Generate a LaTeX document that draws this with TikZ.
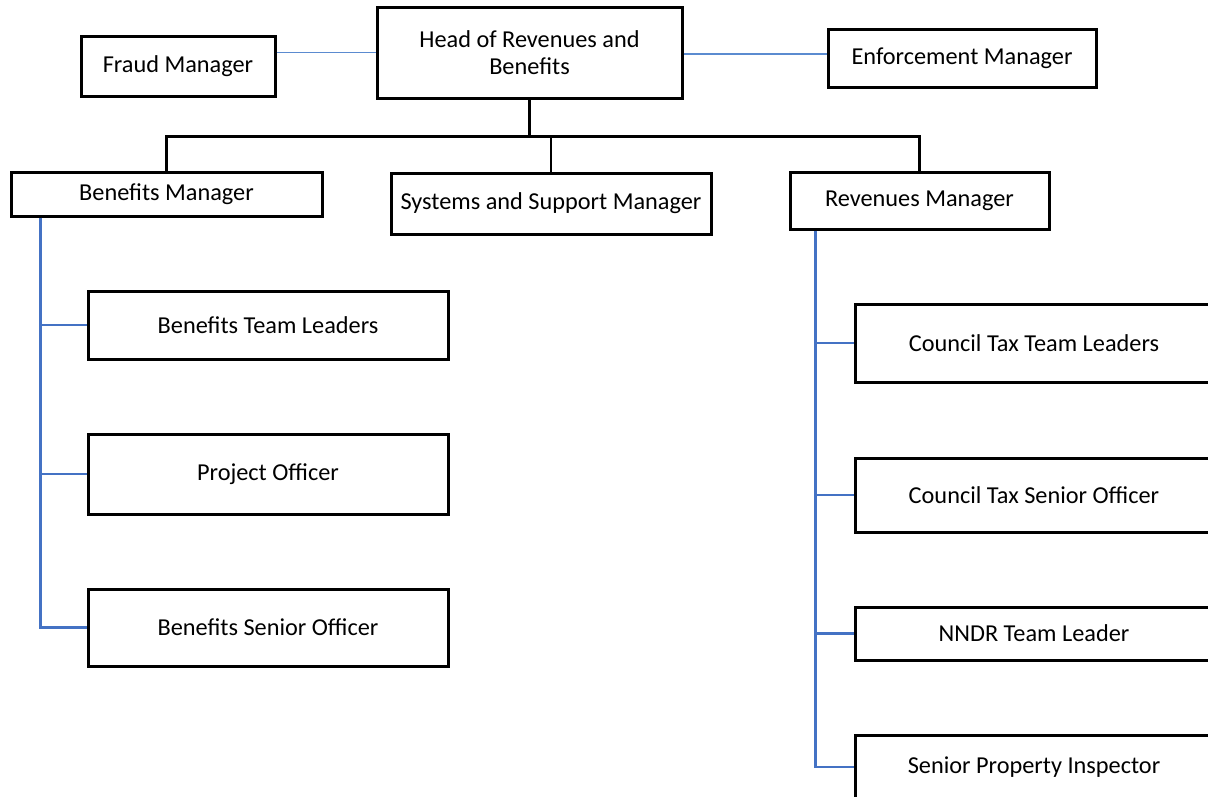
\documentclass[tikz,border=0pt]{standalone}
\usepackage{fontspec}
\setmainfont{Carlito}
\usetikzlibrary{calc}
\definecolor{branchblue}{HTML}{4472C4}
\definecolor{thinblue}{HTML}{5B8BD0}
\begin{document}
\begin{tikzpicture}[x=1pt,y=-1pt,
  box/.style={draw=black,line width=3pt,inner sep=0pt,align=center,
    font=\fontsize{24.3}{27}\selectfont},
  busline/.style={draw=black,line width=2.6pt},
  trunk/.style={draw=black,line width=3.8pt},
  branch/.style={draw=branchblue,line width=2.8pt},
  thinline/.style={draw=thinblue,line width=1.4pt}]
\useasboundingbox (0,0) rectangle (1208,796);
\clip (0,0) rectangle (1208,796);
\fill[white] (0,0) rectangle (1208,796);
% top row
\node[box,minimum width=194,minimum height=60] (fraud) at (178,66) {Fraud Manager};
\node[box,minimum width=305,minimum height=91] (head) at (529.5,52.5) {Head of Revenues and\\Benefits};
\node[box,minimum width=268,minimum height=58] (enf) at (962,58) {Enforcement Manager};
% managers
\node[box,minimum width=311,minimum height=44] (benmgr) at (166.5,194) {Benefits Manager};
\node[box,minimum width=320,minimum height=61] (sys) at (551,203.5) {Systems and Support Manager};
\node[box,minimum width=259,minimum height=57] (revmgr) at (919.5,200.5) {Revenues Manager};
% benefits team
\node[box,minimum width=360,minimum height=68] (btl) at (268,325) {Benefits Team Leaders};
\node[box,minimum width=360,minimum height=80] (po) at (268,474) {Project Officer};
\node[box,minimum width=360,minimum height=77] (bso) at (268,627.5) {Benefits Senior Officer};
% revenues team
\node[box,minimum width=358,minimum height=78] (cttl) at (1034,343) {Council Tax Team Leaders};
\node[box,minimum width=358,minimum height=74] (ctso) at (1034,495) {Council Tax Senior Officer};
\node[box,minimum width=358,minimum height=53] (nndr) at (1034,633.5) {NNDR Team Leader};
\node[box,minimum width=358,minimum height=64] (spi) at (1034,767) {Senior Property Inspector};
% connectors
\draw[thinline] (fraud.east |- head.west) -- (head.west);
\coordinate (enfy) at ($(head.east)+(0,1.5)$);
\draw[thinline] (enfy) -- (enfy -| enf.west);
\coordinate (bus) at ($(head.south)+(0,37)$);
\draw[trunk] (head.south) -- (bus);
\draw[busline] (benmgr.north) -- (benmgr.north |- bus) -- (revmgr.north |- bus) -- (revmgr.north);
\draw[busline] (sys.north) -- (sys.north |- bus);
\coordinate (bspine) at ($(benmgr.south west)+(31,0)$);
\draw[branch] (bspine) |- (btl.west) (bspine) |- (po.west) (bspine) |- (bso.west);
\coordinate (rspine) at ($(revmgr.south west)+(27,0)$);
\draw[branch] (rspine) |- (cttl.west) (rspine) |- (ctso.west) (rspine) |- (nndr.west) (rspine) |- (spi.west);
\end{tikzpicture}
\end{document}
